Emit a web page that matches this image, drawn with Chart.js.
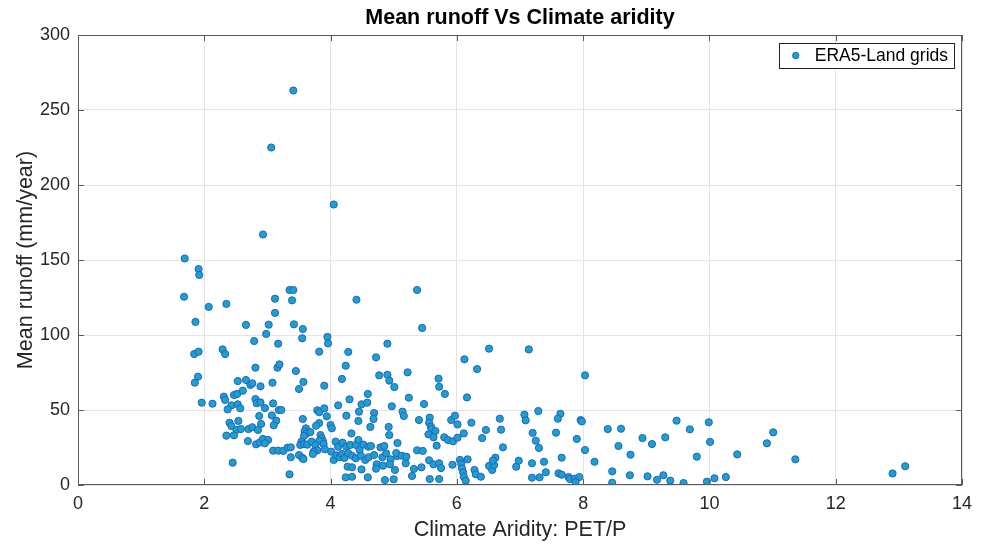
<!DOCTYPE html>
<html lang="en">
<head>
    <meta charset="UTF-8">
    <title>Mean runoff Vs Climate aridity</title>
    <style>
        body { margin: 0; background: #ffffff; }
        .wrap { width: 988px; height: 545px; position: relative; }
    </style>
    <script src="https://cdn.jsdelivr.net/npm/chart.js"></script>
</head>
<body>
    <div class="wrap"><canvas id="runoffChart"></canvas></div>

    <script>
        // values
        const aridity = [
            3.41, 3.06, 4.05, 2.93, 1.69, 1.91, 1.92, 3.35, 3.41, 5.37,
            1.68, 2.07, 2.35, 1.86, 2.66, 3.12, 3.12, 3.02, 2.98, 2.79, 3.17, 1.84, 1.91, 2.29, 2.33, 2.81, 3.16,
            1.90, 1.85, 2.53, 2.66, 2.73, 2.76, 2.89, 3.08, 1.96, 2.13, 2.31, 2.33, 2.47, 2.52, 2.61, 2.43, 2.37,
            2.53, 2.57, 2.81, 2.83, 2.89, 2.96, 3.09, 3.18, 2.40, 2.43, 2.54, 2.87, 2.90, 3.07, 3.14, 3.10, 2.51,
            2.58, 2.70, 2.76, 2.85, 2.35, 2.47, 2.69, 2.82, 2.88, 2.93, 3.01, 2.96, 3.09, 3.17, 2.45,
            3.39, 4.41, 3.42, 3.56, 3.55, 3.95, 3.96, 3.82, 4.28, 4.90, 4.72, 4.24, 3.19, 3.45, 4.18, 4.77, 4.90,
            3.57, 3.50, 3.90, 4.93, 5.01, 4.59, 4.30, 4.49, 4.58, 4.12, 4.97, 3.22, 3.79, 3.82, 3.90, 4.25, 4.45,
            4.69, 4.68, 4.44, 3.56, 3.94, 3.82, 3.77, 4.00, 4.02, 3.61, 3.59, 3.62, 3.68, 3.84, 3.86, 3.88, 3.82,
            3.58, 4.33, 4.63, 4.92, 4.93, 3.54, 3.52, 3.58, 3.63, 3.70, 3.76, 3.79, 3.73, 3.72, 3.89, 3.91, 4.08,
            4.12, 4.19, 4.25, 4.31, 4.40, 4.44, 4.46, 4.52, 4.60, 4.64, 4.79, 4.85, 3.25, 3.32, 3.37, 3.37, 3.50,
            3.55, 3.57, 4.01, 4.05, 4.09, 4.14, 4.18, 4.22, 4.28, 4.34, 4.40, 4.48, 4.55, 4.60, 4.69, 4.73, 4.82,
            4.88, 4.95, 5.05, 4.94, 4.27, 4.34, 4.49, 4.72, 4.83, 4.24, 4.34, 4.59, 4.86, 5.00, 3.35,
            5.45, 6.51, 6.12, 6.32, 5.22, 5.71,
            5.72, 5.81, 5.24, 5.48, 6.16, 5.14, 5.16, 5.40, 5.57, 5.56, 5.59, 5.91, 5.97, 6.01, 6.23, 6.68, 6.70,
            6.46, 6.40, 6.11, 5.60, 5.66, 5.55, 5.63, 5.80, 5.86, 5.94, 6.01, 5.68, 5.06, 5.37, 5.46, 5.04, 5.13,
            5.20, 5.19, 6.73, 5.56, 5.63, 5.72, 5.75, 5.93, 6.05, 6.17, 6.07, 6.08, 6.10, 6.11, 6.14, 6.28, 6.30,
            6.38, 6.51, 6.56, 6.59, 6.61, 6.57, 6.94, 6.98, 5.32, 5.44, 5.02, 5.29, 5.57, 5.72,
            7.14, 8.03,
            7.07, 7.09, 7.29, 7.64, 7.60, 7.96, 7.98, 7.20, 7.25, 7.30, 7.57, 7.90, 8.03, 7.66, 7.19, 7.38, 7.41,
            7.61, 7.66, 7.19, 7.31, 7.77, 7.79, 7.87, 7.94, 7.88, 8.18, 8.39, 8.60, 8.56, 8.75, 8.94, 8.46, 8.74,
            8.46, 9.02,
            9.09, 9.30, 9.48, 9.69, 9.99, 10.01, 9.80, 10.44, 10.91, 11.01, 11.36, 9.17, 9.27, 9.38, 9.59, 9.96,
            10.08, 10.26,
            12.90, 13.10
        ];
        const runoff = [
            263, 225, 187, 167, 151, 144, 140, 130, 130, 130,
            125.5, 118.7, 120.7, 108.7, 106.7, 124.2, 114.7, 106.9, 100.7, 96, 94.2, 87.3, 88.9, 90.4, 87.3, 78.2, 78.2,
            72.2, 68.2, 69.3, 70, 66.7, 67.8, 65.8, 68.2, 54.9, 54.2, 58.9, 56.7, 60, 60.7, 62.9, 53.1, 50.4,
            53.8, 51.1, 57.3, 54.5, 55.1, 51.3, 54.4, 50, 41.5, 39.3, 42.7, 46, 40.7, 46.4, 42.9, 39.8, 36.7,
            37.3, 37.3, 38.5, 36.7, 32.9, 33.1, 29.3, 27.1, 28.4, 30.7, 30, 27.8, 22.9, 22.9, 14.9,
            123.1, 123.5, 107.1, 104, 97.8, 98.7, 94.4, 88.9, 88.7, 94.2, 85.1, 79.5, 80.4, 76, 70.7, 73.1, 73.5,
            68.7, 64, 66.2, 69.6, 65.3, 60.7, 57.1, 53.8, 54.9, 53.1, 52.5, 50, 49.8, 48.5, 51.1, 46.2, 48.9,
            48, 44, 42.7, 44, 45.8, 41.3, 39.5, 40, 37.8, 37.8, 35.8, 34.4, 35.3, 33.3, 31.1, 29.3, 29.3,
            32.7, 34.4, 38.7, 38.7, 33.3, 28.9, 26.7, 27.3, 26.9, 28.9, 26.7, 23.1, 22.2, 20.7, 27.3, 23.8, 28.9,
            25.5, 28.2, 25.5, 26.7, 26.7, 30, 23.3, 26.9, 25.5, 26, 25.1, 26, 22.7, 24.9, 25.1, 18.5, 20,
            18.2, 17.3, 22.2, 16.7, 19.8, 18.5, 20.7, 18, 21.1, 19.5, 17.8, 19.5, 16.7, 18.5, 20, 13.8, 18.5,
            21.1, 17.1, 19.3, 13.8, 12.2, 11.8, 10.4, 10.9, 12.9, 5.1, 5.5, 5.1, 3.3, 3.8, 7.1,
            104.7, 90.9, 83.8, 77.3, 75.1, 70.9,
            65.5, 60.7, 58.2, 54, 58.4, 48.9, 46, 43.3, 44.9, 41.5, 38.9, 43.3, 46.2, 40.4, 41.5, 44.2, 36.9,
            36.7, 31.3, 34.4, 37.3, 36, 33.8, 31.8, 31.8, 30, 29.1, 31.5, 26.2, 28, 23.1, 22.7, 21.3, 19.5,
            18.9, 14.5, 25.1, 16.5, 13.8, 14.5, 11.3, 13.5, 16.7, 17.1, 14, 11.1, 8.4, 5.5, 2.9, 10, 7.1,
            5.5, 12.7, 10, 13.3, 18.2, 16.2, 12.2, 16.2, 10.7, 11.8, 10, 6, 4, 4,
            90.4, 73.1,
            46.9, 43.1, 49.3, 47.5, 44.2, 43.3, 42.4, 34.7, 29.5, 24.7, 34.9, 30.7, 23.3, 18.2, 14.5, 15.5, 8.5,
            7.8, 6.9, 4.9, 5.1, 5.3, 4, 4.2, 5.3, 2, 15.5, 37.3, 37.5, 26, 20.2, 31.3, 9.1, 6.5,
            1.5, 5.8,
            27.3, 31.8, 42.9, 37.1, 41.8, 28.7, 18.9, 20.4, 27.8, 35.1, 17.1, 3.5, 6.5, 2.9, 1.3, 2.2,
            4.5, 5.3,
            7.7, 12.5
        ];
        const xTicks = [0, 2, 4, 6, 8, 10, 12, 14];
        const yTicks = [0, 50, 100, 150, 200, 250, 300];
        const chartTitle = 'Mean runoff Vs Climate aridity';

        const FONT = '"Liberation Sans", Arial, Helvetica, sans-serif';
        const points = aridity.map((x, i) => ({ x: x, y: runoff[i] }));

        // MATLAB-like box, inward ticks, title over the axes and a legend inside them
        const axesBox = {
            id: 'axesBox',
            afterDraw(chart) {
                const { ctx, chartArea: a, scales } = chart;
                ctx.save();
                ctx.strokeStyle = '#5a5a5a';
                ctx.lineWidth = 1;
                ctx.strokeRect(a.left + 0.5, a.top + 0.5, a.right - a.left - 1, a.bottom - a.top - 1);
                ctx.beginPath();
                xTicks.forEach(v => {
                    const px = Math.round(scales.x.getPixelForValue(v)) + 0.5;
                    ctx.moveTo(px, a.bottom); ctx.lineTo(px, a.bottom - 6);
                    ctx.moveTo(px, a.top); ctx.lineTo(px, a.top + 6);
                });
                yTicks.forEach(v => {
                    const py = Math.round(scales.y.getPixelForValue(v)) + 0.5;
                    ctx.moveTo(a.left, py); ctx.lineTo(a.left + 6, py);
                    ctx.moveTo(a.right, py); ctx.lineTo(a.right - 6, py);
                });
                ctx.stroke();

                // title, centred on the axes
                ctx.font = 'bold 21.5px ' + FONT;
                ctx.fillStyle = '#000000';
                ctx.textAlign = 'center';
                ctx.textBaseline = 'middle';
                ctx.fillText(chartTitle, (a.left + a.right) / 2, 18);

                // legend
                const label = chart.data.datasets[0].label;
                ctx.font = '17.5px ' + FONT;
                ctx.textAlign = 'left';
                const tw = ctx.measureText(label).width;
                const bw = 36 + tw + 6, bh = 25;
                const bx = a.right - 8 - bw, by = a.top + 8;
                ctx.fillStyle = '#ffffff';
                ctx.fillRect(bx, by, bw, bh);
                ctx.strokeStyle = '#262626';
                ctx.strokeRect(Math.round(bx) + 0.5, Math.round(by) + 0.5, Math.round(bw), bh);
                ctx.beginPath();
                ctx.arc(bx + 17, by + bh / 2, 3.2, 0, Math.PI * 2);
                ctx.fillStyle = '#18a4c4';
                ctx.fill();
                ctx.strokeStyle = '#2b5bd4';
                ctx.stroke();
                ctx.fillStyle = '#000000';
                ctx.fillText(label, bx + 36, by + bh / 2 + 1);
                ctx.restore();
            }
        };

        new Chart(document.getElementById('runoffChart'), {
            type: 'scatter',
            data: {
                datasets: [{
                    label: 'ERA5-Land grids',
                    data: points,
                    backgroundColor: '#18a4c4',
                    borderColor: '#2b5bd4',
                    borderWidth: 1,
                    pointRadius: 3.6,
                    pointHoverRadius: 3.6
                }]
            },
            options: {
                responsive: true,
                maintainAspectRatio: false,
                animation: false,
                layout: { padding: { left: 0, right: 26, top: 35, bottom: 0 } },
                plugins: {
                    legend: { display: false },
                    tooltip: { enabled: false },
                    title: { display: false }
                },
                scales: {
                    x: {
                        type: 'linear',
                        min: 0,
                        max: 14,
                        afterFit: s => { s.height = 60; },
                        afterBuildTicks: s => { s.ticks = xTicks.map(v => ({ value: v })); },
                        ticks: { color: '#262626', font: { family: FONT, size: 18 }, padding: 8 },
                        grid: { color: '#e4e4e4', drawTicks: false },
                        border: { display: false },
                        title: {
                            display: true,
                            text: 'Climate Aridity: PET/P',
                            color: '#262626',
                            font: { family: FONT, size: 21.5 },
                            padding: { top: 4, bottom: 2 }
                        }
                    },
                    y: {
                        type: 'linear',
                        min: 0,
                        max: 300,
                        afterFit: s => { s.width = 78; },
                        afterBuildTicks: s => { s.ticks = yTicks.map(v => ({ value: v })); },
                        ticks: { color: '#262626', font: { family: FONT, size: 18 }, padding: 8 },
                        grid: { color: '#e4e4e4', drawTicks: false },
                        border: { display: false },
                        title: {
                            display: true,
                            text: 'Mean runoff (mm/year)',
                            color: '#262626',
                            font: { family: FONT, size: 21.5 },
                            padding: { top: 13, bottom: 4 }
                        }
                    }
                }
            },
            plugins: [axesBox]
        });
    </script>
</body>
</html>
